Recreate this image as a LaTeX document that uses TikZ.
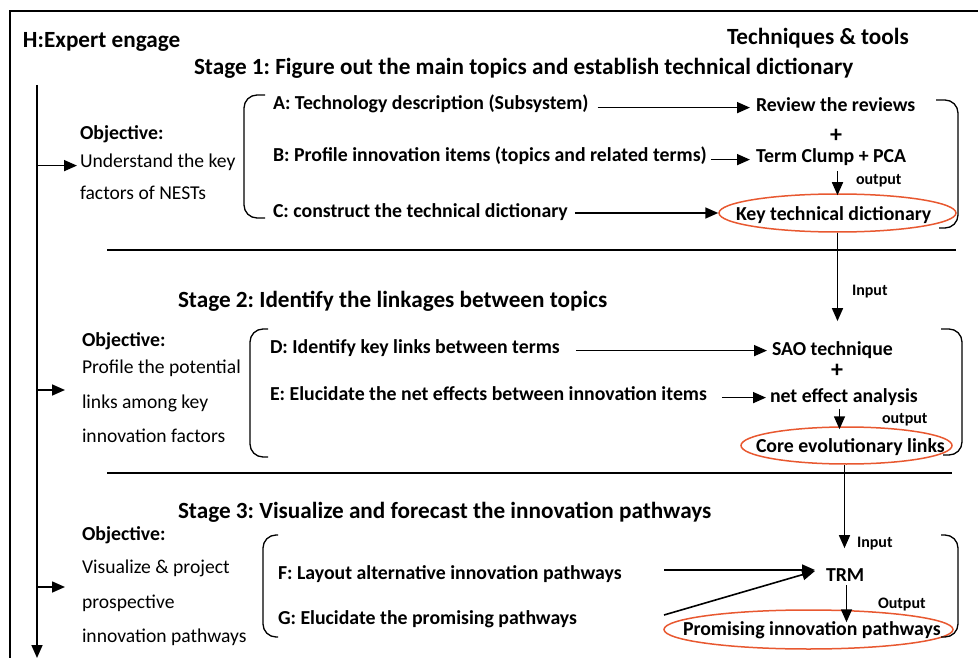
\documentclass[tikz,border=0pt]{standalone}
\usepackage{fontspec}
\setmainfont{Carlito}
\usetikzlibrary{arrows.meta,shapes.geometric}
\definecolor{ringred}{RGB}{232,88,48}
\frenchspacing
\begin{document}
\begin{tikzpicture}[x=1pt,y=-1pt,
  txt/.style={anchor=base west,inner sep=0pt,outer sep=0pt},
  head/.style={txt,font=\fontsize{23.2pt}{27pt}\selectfont\bfseries},
  stagetitle/.style={txt,font=\fontsize{23.2pt}{27pt}\selectfont\bfseries},
  item/.style={txt,font=\fontsize{19.8pt}{23pt}\selectfont\bfseries},
  plain/.style={txt,font=\fontsize{19.6pt}{23pt}\selectfont},
  small/.style={txt,font=\fontsize{16pt}{19pt}\selectfont\bfseries},
  plus/.style={inner sep=0pt,font=\fontsize{24pt}{27pt}\selectfont\bfseries},
  ring/.style={ellipse,draw=ringred,line width=1.5pt,inner sep=0pt},
  ringtext/.style={item,anchor=base west},
  arr/.style={line width=1.6pt,-{Triangle[length=13pt,width=11pt]}},
  brace/.style={line width=1.3pt,rounded corners=13pt},
  rule/.style={line width=1.3pt}]
\useasboundingbox (0,0) rectangle (978,658);

% outer frame (open to the right and bottom)
\draw[line width=1.8pt] (10,658) -- (10,11) -- (978,11);

% headings
\node[head] (expert) at (23,48) {H:Expert engage};
\node[head] (tools) at (727,45) {Techniques \& tools};

% expert spine with branches to each objective
\coordinate (spinetop) at (37,85);
\coordinate (spinebot) at (37,658);
\draw[arr] (spinetop) -- (spinebot);

% ---------------- Stage 1 ----------------
\node[stagetitle] (s1) at (194,75) {Stage 1: Figure out the main topics and establish technical dictionary};
\node[item] (obj1) at (80,140) {Objective:};
\node[plain] (o1a) at (80,168) {Understand the key};
\node[plain] (o1b) at (80,200) {factors of NESTs};
\draw[arr] (spinetop |- o1a.mid west) -- ([xshift=-3pt]o1a.mid west);

\draw[brace] (265,95) -- (244,95) -- (244,218) -- (265,218);
\node[item] (A) at (273,110) {A: Technology description (Subsystem)};
\node[item] (B) at (273,162) {B: Profile innovation items (topics and related terms)};
\node[item] (C) at (273,218) {C: construct the technical dictionary};

\node[item] (rev) at (756,112) {Review the reviews};
\node[plus] (p1) at (836,136) {+};
\node[item] (tcp) at (756,163) {Term Clump + PCA};
\node[ring,minimum width=237pt,minimum height=38pt] (key) at (837.5,213) {};
\node[ringtext] (keyt) at (736,220) {Key technical dictionary};
\node[small] (out1) at (856,185) {output};

\draw[arr] ([xshift=9pt]A.mid east) -- ([xshift=-6pt]A.mid east -| rev.west);
\draw[arr] ([xshift=4pt]B.mid east) -- ([xshift=-6pt]B.mid east -| rev.west);
\draw[arr] ([xshift=7pt]C.mid east |- key.west) -- (key.west);
\draw[arr] ([yshift=-5pt]key.north |- tcp.south) -- ([yshift=-2pt]key.north);
\draw[brace] (936,100) -- (958,100) -- (958,228) -- (939,228);

\draw[rule] (107,250) -- (956,250);

% ---------------- Stage 2 ----------------
\node[stagetitle] (s2) at (178,307) {Stage 2: Identify the linkages between topics};
\node[item] (obj2) at (82,346) {Objective:};
\node[plain] (o2a) at (82,373) {Profile the potential};
\node[plain] (o2b) at (82,408) {links among key};
\node[plain] (o2c) at (82,442) {innovation factors};
\coordinate (b2) at (65,390);
\draw[arr] (spinetop |- b2) -- (b2);

\draw[brace] (268,329) -- (250,329) -- (250,457) -- (268,457);
\node[item] (D) at (270,353) {D: Identify key links between terms};
\node[item] (E) at (270,400) {E: Elucidate the net effects between innovation items};

\node[item] (sao) at (772,355) {SAO technique};
\node[plus] (p2) at (837,371) {+};
\node[item] (nea) at (770,402) {net effect analysis};
\node[ring,minimum width=211pt,minimum height=37pt] (core) at (846.5,445.5) {};
\node[ringtext] (coret) at (756,452) {Core evolutionary links};
\node[small] (in1) at (852,295) {Input};
\node[small] (out2) at (882,423) {output};

\draw[arr] (key.south) -- ([yshift=20pt]key.south |- sao.north);
\draw[arr] ([xshift=16pt]D.mid east) -- ([xshift=-5pt]D.mid east -| sao.west);
\draw[arr] ([xshift=15pt]E.mid east) -- ([xshift=-4pt]E.mid east -| nea.west);
\draw[arr] ([xshift=-7pt,yshift=-4pt]core.north |- nea.south) -- ([xshift=-7pt,yshift=-3pt]core.north);
\draw[brace] (941,329) -- (962,329) -- (962,455) -- (943,455);

\draw[rule] (107,473) -- (952,473);

% ---------------- Stage 3 ----------------
\node[stagetitle] (s3) at (178,518) {Stage 3: Visualize and forecast the innovation pathways};
\node[item] (obj3) at (82,540) {Objective:};
\node[plain] (o3a) at (82,573) {Visualize \& project};
\node[plain] (o3b) at (82,608) {prospective};
\node[plain] (o3c) at (82,642) {innovation pathways};
\coordinate (b3) at (65,587);
\draw[arr] (spinetop |- b3) -- (b3);

\draw[brace] (278,535) -- (263,535) -- (263,637) -- (278,637);
\node[item] (F) at (278,579) {F: Layout alternative innovation pathways};
\node[item] (G) at (278,624) {G: Elucidate the promising pathways};

\node[item] (trm) at (826,581) {TRM};
\node[ring,minimum width=289pt,minimum height=39pt] (prom) at (808.5,629.5) {};
\node[ringtext] (promt) at (683,635) {Promising innovation pathways};
\node[small] (in2) at (857,547) {Input};
\node[small] (out3) at (878,608) {Output};

\coordinate (fstart) at (664,570);
\coordinate (gstart) at (664,615);
\coordinate (trmin) at (815,571);
\draw[arr] (fstart) -- (fstart -| trmin);
\draw[arr] (gstart) -- (trmin);
\draw[arr] ([xshift=-2pt]core.south) -- ([xshift=-2pt,yshift=20pt]core.south |- trm.north);
\draw[arr] ([xshift=38pt,yshift=-4pt]prom.north |- trm.south) -- ([xshift=38pt,yshift=-13pt]prom.north);
\draw[brace] (941,535) -- (958,535) -- (958,637) -- (941,637);

\end{tikzpicture}
\end{document}
